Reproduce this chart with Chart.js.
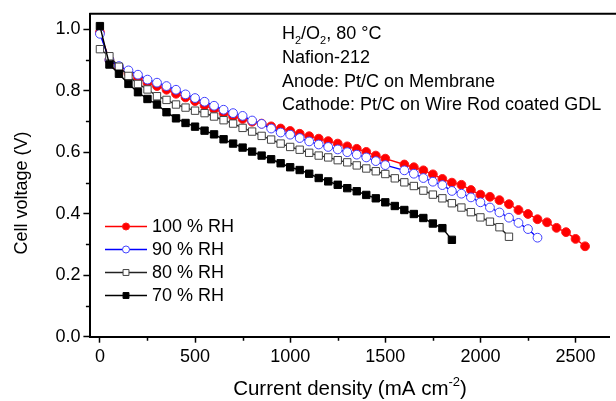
<!DOCTYPE html>
<html>
<head>
<meta charset="utf-8">
<script src="https://cdn.jsdelivr.net/npm/chart.js@4.4.1/dist/chart.umd.min.js"></script>
<style>
  html, body { margin: 0; padding: 0; background: #fff; overflow: hidden; }
  #wrap { width: 616px; height: 401px; position: relative; }
</style>
</head>
<body>
<div id="wrap">
  <canvas id="polCurve" width="616" height="401"></canvas>
</div>

<script type="text/javascript">
    // current density, mA cm-2 (shared x grid)
    const currentDensity = [
      0, 50, 100, 150, 200, 250, 300, 350, 400, 450,
      500, 550, 600, 650, 700, 750, 800, 850, 900, 950,
      1000, 1050, 1100, 1150, 1200, 1250, 1300, 1350, 1400, 1450,
      1500, 1550, 1600, 1650, 1700, 1750, 1800, 1850, 1900, 1950,
      2000, 2050, 2100, 2150, 2200, 2250, 2300, 2350, 2400, 2450,
      2500, 2550
    ];

    // cell voltage (V) for each humidity, null = no reading at that current
    const rh100 = [
      0.99, 0.90, 0.875, 0.857, 0.84, 0.825, 0.815, 0.803, 0.79, 0.778,
      0.766, 0.752, 0.74, 0.727, 0.716, 0.708, 0.699, 0.693, 0.684, 0.677,
      0.669, 0.66, 0.652, 0.644, 0.636, 0.628, 0.619, 0.611, 0.601, 0.589,
      0.579, null, 0.56, 0.551, 0.541, 0.528, 0.513, 0.501, 0.494, 0.477,
      0.462, 0.455, 0.444, 0.431, 0.412, 0.399, 0.382, 0.372, 0.354, 0.34,
      0.318, 0.294
    ];
    const rh90 = [
      0.985, 0.90, 0.88, 0.866, 0.852, 0.836, 0.826, 0.815, 0.803, 0.788,
      0.776, 0.764, 0.751, 0.738, 0.727, 0.718, 0.703, 0.692, 0.677, 0.664,
      0.657, 0.646, 0.635, 0.625, 0.617, 0.609, 0.60, 0.592, 0.583, 0.571,
      0.558, null, 0.541, 0.53, 0.516, 0.504, 0.493, 0.474, 0.465, 0.453,
      0.437, 0.42, 0.404, 0.387, 0.37, 0.35, 0.322
    ];
    const rh80 = [
      0.935, 0.912, 0.878, 0.848, 0.822, 0.804, 0.782, 0.77, 0.755, 0.745,
      0.735, 0.727, 0.716, 0.704, 0.693, 0.679, 0.667, 0.653, 0.641, 0.628,
      0.617, 0.608, 0.598, 0.589, 0.583, 0.574, 0.567, 0.557, 0.547, 0.538,
      0.529, 0.515, 0.502, 0.49, 0.475, 0.462, 0.45, 0.434, 0.42, 0.405,
      0.388, 0.374, 0.356, 0.325
    ];
    const rh70 = [
      1.01, 0.885, 0.855, 0.822, 0.795, 0.773, 0.755, 0.73, 0.71, 0.695,
      0.683, 0.67, 0.658, 0.642, 0.628, 0.615, 0.602, 0.589, 0.577, 0.564,
      0.551, 0.542, 0.53, 0.516, 0.505, 0.494, 0.483, 0.473, 0.461, 0.45,
      0.437, 0.425, 0.412, 0.399, 0.386, 0.368, 0.353, 0.315
    ];

    const seriesLabels = ['100 % RH', '90 % RH', '80 % RH', '70 % RH'];

    // axis tick values
    const xTickValues = [0, 500, 1000, 1500, 2000, 2500];
    const yTickValues = [0, 0.2, 0.4, 0.6, 0.8, 1.0];

    const FONT = 'Liberation Sans, Arial, sans-serif';

    function toPoints(vals) {
      return vals.map((v, i) => ({ x: currentDensity[i], y: v }));
    }

    const ctx = document.getElementById('polCurve').getContext('2d');

    // minor ticks halfway between the major ones, drawn outward like the major ticks
    const minorTicks = {
      id: 'minorTicks',
      afterDraw(chart) {
        const c = chart.ctx;
        const xs = chart.scales.x, ys = chart.scales.y;
        c.save();
        c.strokeStyle = '#000';
        c.lineWidth = 1.5;
        c.beginPath();
        for (let i = 0; i < xs.ticks.length - 1; i++) {
          const px = Math.round(xs.getPixelForValue((xs.ticks[i].value + xs.ticks[i + 1].value) / 2)) + 0.5;
          c.moveTo(px, ys.bottom);
          c.lineTo(px, ys.bottom + 4);
        }
        for (let i = 0; i < ys.ticks.length - 1; i++) {
          const py = Math.round(ys.getPixelForValue((ys.ticks[i].value + ys.ticks[i + 1].value) / 2)) + 0.5;
          c.moveTo(xs.left, py);
          c.lineTo(xs.left - 4.5, py);
        }
        c.stroke();
        // top frame line
        c.lineWidth = 2;
        c.beginPath();
        c.moveTo(xs.left - 1, ys.top);
        c.lineTo(chart.width, ys.top);
        c.stroke();
        c.restore();
      }
    };

    // text with sub/superscripts, written piece by piece
    function drawRich(c, parts, x, y, size) {
      let cx = x;
      parts.forEach(p => {
        const s = p.sub || p.sup ? Math.round(size * 0.62) : size;
        c.font = s + 'px ' + FONT;
        const dy = p.sub ? size * 0.3 : (p.sup ? -size * 0.42 : 0);
        c.fillText(p.t, cx, y + dy);
        cx += c.measureText(p.t).width;
      });
      return cx - x;
    }

    const labelsPlugin = {
      id: 'labelsPlugin',
      afterDraw(chart) {
        const c = chart.ctx;
        c.save();
        c.fillStyle = '#000';
        c.textAlign = 'left';
        c.textBaseline = 'alphabetic';

        // conditions box
        const tx = 282;
        drawRich(c, [{ t: 'H' }, { t: '2', sub: true }, { t: '/O' }, { t: '2', sub: true }, { t: ', 80 °C' }], tx, 38.5, 18);
        c.font = '18px ' + FONT;
        c.fillText('Nafion-212', tx, 63);
        c.fillText('Anode: Pt/C on Membrane', tx, 86.5);
        c.fillText('Cathode: Pt/C on Wire Rod coated GDL', tx, 110);

        // x axis title
        const xParts = [{ t: 'Current density (mA cm' }, { t: '-2', sup: true }, { t: ')' }];
        c.globalAlpha = 0;
        const w = drawRich(c, xParts, 0, 0, 20.5);
        c.globalAlpha = 1;
        drawRich(c, xParts, 350 - w / 2, 395, 20.5);

        // y axis title
        c.translate(22, 193);
        c.rotate(-Math.PI / 2);
        c.font = '18px ' + FONT;
        c.textAlign = 'center';
        c.textBaseline = 'middle';
        c.fillText('Cell voltage (V)', 0, 0);
        c.setTransform(1, 0, 0, 1, 0, 0);

        // legend, styled from the datasets
        const rows = [226.5, 249.5, 272.5, 295.5];
        chart.data.datasets.forEach((ds, i) => {
          const y = rows[i];
          c.strokeStyle = ds.borderColor;
          c.lineWidth = ds.borderWidth;
          c.beginPath();
          c.moveTo(105, y);
          c.lineTo(147, y);
          c.stroke();
          c.fillStyle = ds.pointBackgroundColor;
          c.strokeStyle = ds.pointBorderColor;
          c.lineWidth = ds.pointBorderWidth;
          c.beginPath();
          if (ds.pointStyle === 'circle') {
            c.arc(126, y, ds.pointRadius * 0.8, 0, Math.PI * 2);
          } else {
            const h = ds.pointRadius * Math.SQRT1_2 * 0.8;
            c.rect(126 - h, y - h, 2 * h, 2 * h);
          }
          c.fill();
          c.stroke();
          c.fillStyle = '#000';
          c.font = '18px ' + FONT;
          c.textAlign = 'left';
          c.textBaseline = 'middle';
          c.fillText(seriesLabels[i], 152, y + 1);
        });
        c.restore();
      }
    };

    const polChart = new Chart(ctx, {
      type: 'line',
      data: {
        datasets: [
          {
            label: seriesLabels[0], data: toPoints(rh100), order: 4,
            borderColor: '#ff0000', borderWidth: 1.4,
            pointStyle: 'circle', pointRadius: 4.4, pointBorderWidth: 1,
            pointBackgroundColor: '#ff0000', pointBorderColor: '#ff1a1a'
          },
          {
            label: seriesLabels[1], data: toPoints(rh90), order: 3,
            borderColor: '#0000ff', borderWidth: 1.4,
            pointStyle: 'circle', pointRadius: 4.4, pointBorderWidth: 1,
            pointBackgroundColor: '#ffffff', pointBorderColor: '#4040ff'
          },
          {
            label: seriesLabels[2], data: toPoints(rh80), order: 2,
            borderColor: '#222222', borderWidth: 1.4,
            pointStyle: 'rect', pointRadius: 5.2, pointBorderWidth: 1,
            pointBackgroundColor: '#ffffff', pointBorderColor: '#444444'
          },
          {
            label: seriesLabels[3], data: toPoints(rh70), order: 1,
            borderColor: '#000000', borderWidth: 1.4,
            pointStyle: 'rect', pointRadius: 5.2, pointBorderWidth: 1,
            pointBackgroundColor: '#000000', pointBorderColor: '#000000'
          }
        ]
      },
      options: {
        responsive: false,
        animation: false,
        spanGaps: true,
        events: [],
        layout: { padding: { left: 0, right: 1.4, top: 12.7, bottom: 0 } },
        plugins: { legend: { display: false }, tooltip: { enabled: false } },
        scales: {
          x: {
            type: 'linear', min: -50, max: 2680,
            border: { display: true, color: '#000', width: 2 },
            grid: { drawOnChartArea: false, drawTicks: true, tickLength: 6, tickWidth: 1.5, tickColor: '#000' },
            ticks: {
              color: '#000', padding: 4, maxRotation: 0, autoSkip: false,
              font: { family: FONT, size: 18 },
              callback: v => String(v)
            },
            afterBuildTicks(scale) { scale.ticks = xTickValues.map(v => ({ value: v })); },
            afterFit(scale) { scale.height = 64.3; }
          },
          y: {
            type: 'linear', min: 0, max: 1.05,
            border: { display: true, color: '#000', width: 2 },
            grid: { drawOnChartArea: false, drawTicks: true, tickLength: 7, tickWidth: 1.5, tickColor: '#000' },
            ticks: {
              color: '#000', padding: 3, autoSkip: false,
              font: { family: FONT, size: 18 },
              callback: v => v.toFixed(1)
            },
            afterBuildTicks(scale) { scale.ticks = yTickValues.map(v => ({ value: v })); },
            afterFit(scale) { scale.width = 90.4; }
          }
        }
      },
      plugins: [minorTicks, labelsPlugin]
    });
</script>
</body>
</html>
